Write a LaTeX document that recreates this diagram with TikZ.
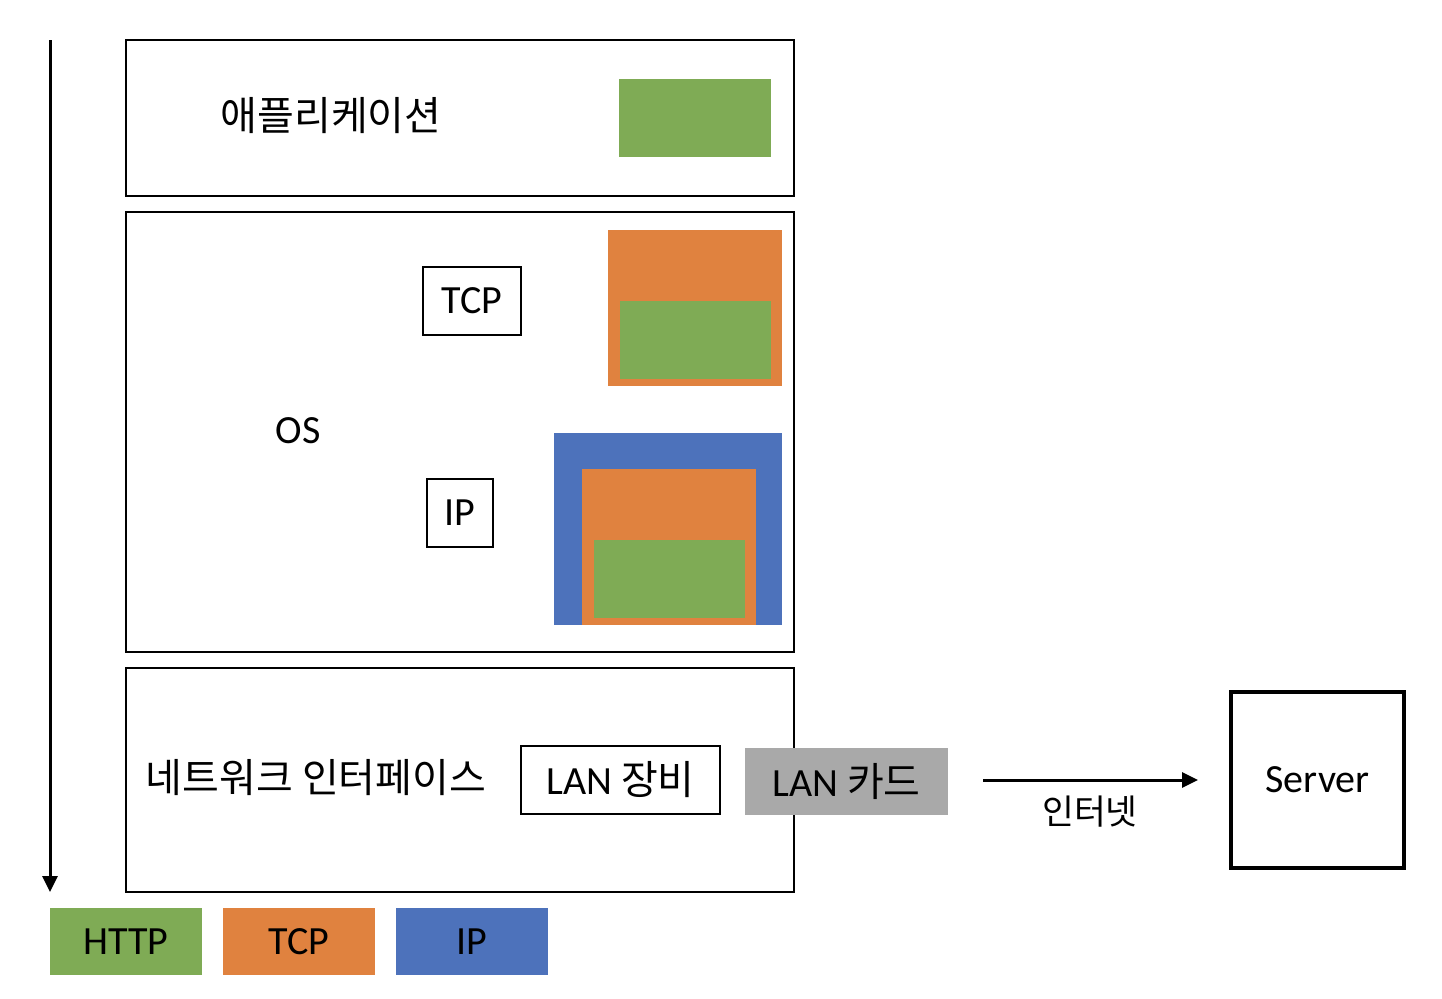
\documentclass[tikz,border=0pt]{standalone}
\usepackage{fontspec}
\setmainfont{Carlito}
\newfontfamily\kr{Noto Sans CJK KR}
\usetikzlibrary{arrows.meta}
\definecolor{hgreen}{HTML}{7FAB55}
\definecolor{torange}{HTML}{E0823F}
\definecolor{iblue}{HTML}{4D72BB}
\definecolor{cardgray}{HTML}{A9A9A9}
\tikzset{
  blk/.style={inner sep=0pt, outer sep=0pt, anchor=north west},
  frame/.style={blk, draw, line width=1pt},
  greenbox/.style={blk, fill=hgreen},
  orangebox/.style={blk, fill=torange},
  bluebox/.style={blk, fill=iblue},
  lat/.style={font=\fontsize{20pt}{24pt}\selectfont},
  kor/.style={font=\kr\fontsize{20pt}{24pt}\selectfont},
  arr/.style={line width=1.5pt, -{Triangle[length=8pt,width=7.5pt]}}
}
\begin{document}
\begin{tikzpicture}[x=0.5pt,y=-0.5pt]
\useasboundingbox (0,0) rectangle (1442,998);
% vertical arrow
\coordinate (vtop) at (50,40);
\coordinate (vbot) at (50,892);
\draw[arr] (vtop) -- (vbot);
% application layer
\node[frame, minimum width=334pt, minimum height=78pt] (app) at (126,40) {};
\node[kor] (applbl) at (331,116) {애플리케이션};
\node[greenbox, minimum width=76pt, minimum height=39pt] (appdata) at (619,79) {};
% OS layer
\node[frame, minimum width=334pt, minimum height=220pt] (os) at (126,212) {};
\node[lat] (oslbl) at (298,431) {OS};
\node[frame, lat, minimum width=49pt, minimum height=34pt] (tcplbl) at (423,267) {};
\node[lat] at (tcplbl.center) {TCP};
\node[orangebox, minimum width=87pt, minimum height=78pt] (tcpseg) at (608,230) {};
\node[greenbox, minimum width=75.5pt, minimum height=39pt] (tcpdata) at (620,301) {};
\node[frame, minimum width=33pt, minimum height=34pt] (iplbl) at (427,479) {};
\node[lat] at (iplbl.center) {IP};
\node[bluebox, minimum width=114pt, minimum height=96pt] (ipseg) at (554,433) {};
\node[orangebox, minimum width=87pt, minimum height=78pt] (iptcp) at (582,469) {};
\node[greenbox, minimum width=75.5pt, minimum height=39pt] (ipdata) at (594,540) {};
% network interface layer
\node[frame, minimum width=334pt, minimum height=112pt] (net) at (126,668) {};
\node[kor] (netlbl) at (316,778) {네트워크 인터페이스};
\node[frame, minimum width=99.5pt, minimum height=34pt] (lanbox) at (521,746) {};
\node[lat] at (lanbox.center) {LAN {\kr 장비}};
\node[blk, fill=cardgray, minimum width=101.5pt, minimum height=33.5pt] (lancard) at (745,748) {};
\node[lat] at (lancard.center) {LAN {\kr 카드}};
% internet arrow and server
\coordinate (netstart) at (983,780);
\coordinate (netend) at (1198,780);
\draw[arr] (netstart) -- (netend);
\node[font=\kr\fontsize{17.3pt}{20pt}\selectfont] (inetlbl) at (1090,812) {인터넷};
\node[blk, draw, line width=2pt, minimum width=86.5pt, minimum height=88pt] (server) at (1231,692) {};
\node[lat] at (server.center) {Server};
% legend
\node[greenbox, minimum width=76pt, minimum height=33.5pt] (leghttp) at (50,908) {};
\node[lat] at (leghttp.center) {HTTP};
\node[orangebox, minimum width=76pt, minimum height=33.5pt] (legtcp) at (223,908) {};
\node[lat] at (legtcp.center) {TCP};
\node[bluebox, minimum width=76pt, minimum height=33.5pt] (legip) at (396,908) {};
\node[lat] at (legip.center) {IP};
\end{tikzpicture}
\end{document}
